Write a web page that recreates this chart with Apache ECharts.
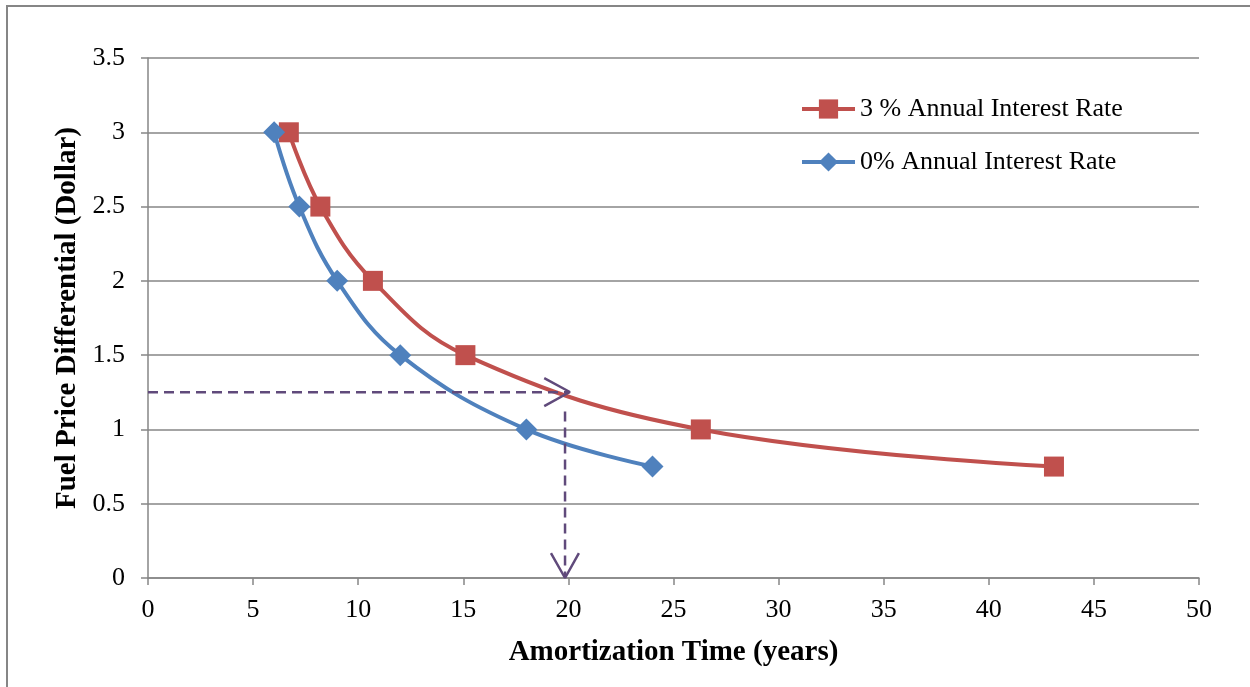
<!DOCTYPE html>
<html>
<head>
<meta charset="utf-8">
<script src="https://cdn.jsdelivr.net/npm/echarts@6/dist/echarts.min.js"></script>
<style>
  html, body { margin: 0; padding: 0; background: #fff; }
  #chart { width: 1250px; height: 687px; }
</style>
</head>
<body>
<div id="chart"></div>
<script>
// data
var xTicks = [0, 5, 10, 15, 20, 25, 30, 35, 40, 45, 50];
var yTicks = [0, 0.5, 1, 1.5, 2, 2.5, 3, 3.5];
var rate3Years = [6.7, 8.2, 10.7, 15.1, 26.3, 43.1];
var rate3Diff = [3, 2.5, 2, 1.5, 1, 0.75];
var rate0Years = [6, 7.2, 9, 12, 18, 24];
var rate0Diff = [3, 2.5, 2, 1.5, 1, 0.75];
var seriesNames = ['3 % Annual Interest Rate', '0% Annual Interest Rate'];
// dashed read-off guide: horizontal at 1.25 to ~20 years, then down
var guideH = [[0, 1.25], [20.05, 1.25]];
var guideV = [[19.84, 1.12], [19.84, 0]];
var arrowH = [[18.85, 1.345], [20.07, 1.252], [18.85, 1.157]];
var arrowV = [[19.17, 0.168], [19.84, 0], [20.5, 0.168]];

var colors = ['#c0504d', '#4f81bd'];
var guideColor = '#604a7b';
var gray = '#868686';
var font = '"Liberation Serif", "Times New Roman", serif';

function pairs(xs, ys) {
    return xs.map(function (x, i) { return [x, ys[i]]; });
}

function guide(data, dashed) {
    return {
        type: 'line',
        data: data,
        symbol: 'none',
        silent: true,
        animation: false,
        z: 5,
        lineStyle: {
            color: guideColor,
            width: 2.5,
            type: dashed ? [10, 6] : 'solid'
        }
    };
}

var option = {
    animation: false,
    textStyle: { fontFamily: font },
    graphic: [{
        type: 'rect',
        shape: { x: 7, y: 6, width: 1400, height: 900 },
        style: { fill: 'none', stroke: gray, lineWidth: 2 },
        silent: true
    }],
    grid: { left: 148, right: 51, top: 58, bottom: 109 },
    legend: {
        data: seriesNames,
        orient: 'vertical',
        left: 800,
        top: 96,
        itemWidth: 53,
        itemHeight: 24,
        itemGap: 27,
        padding: 0,
        lineStyle: { width: 4 },
        textStyle: { fontSize: 26, color: '#000', fontFamily: font }
    },
    xAxis: {
        type: 'value',
        min: xTicks[0],
        max: xTicks[xTicks.length - 1],
        interval: 5,
        name: 'Amortization Time (years)',
        nameLocation: 'middle',
        nameGap: 60,
        nameTextStyle: { fontSize: 29, fontWeight: 'bold', color: '#000', fontFamily: font },
        axisLine: { lineStyle: { color: gray, width: 1.5 } },
        axisTick: { show: true, length: 7, lineStyle: { color: gray, width: 1.5 } },
        axisLabel: { fontSize: 26, color: '#000', margin: 19, fontFamily: font },
        splitLine: { show: false }
    },
    yAxis: {
        type: 'value',
        min: yTicks[0],
        max: yTicks[yTicks.length - 1],
        interval: 0.5,
        name: 'Fuel Price Differential (Dollar)',
        nameLocation: 'middle',
        nameGap: 64,
        nameRotate: 90,
        nameTextStyle: { fontSize: 29, fontWeight: 'bold', color: '#000', fontFamily: font },
        axisLine: { show: true, lineStyle: { color: gray, width: 1.5 } },
        axisTick: { show: true, length: 7, lineStyle: { color: gray, width: 1.5 } },
        axisLabel: { fontSize: 26, color: '#000', margin: 23, fontFamily: font },
        splitLine: { show: true, lineStyle: { color: gray, width: 1.5 } }
    },
    series: [
        {
            name: seriesNames[0],
            type: 'line',
            data: pairs(rate3Years, rate3Diff),
            smooth: 0.4,
            symbol: 'rect',
            symbolSize: 20,
            z: 3,
            itemStyle: { color: colors[0] },
            lineStyle: { color: colors[0], width: 4 }
        },
        {
            name: seriesNames[1],
            type: 'line',
            data: pairs(rate0Years, rate0Diff),
            smooth: 0.4,
            symbol: 'diamond',
            symbolSize: 22,
            z: 4,
            itemStyle: { color: colors[1] },
            lineStyle: { color: colors[1], width: 4 }
        },
        guide(guideH, true),
        guide(guideV, true),
        guide(arrowH, false),
        guide(arrowV, false)
    ]
};

var chart = echarts.init(document.getElementById('chart'));
chart.setOption(option);
</script>
</body>
</html>
